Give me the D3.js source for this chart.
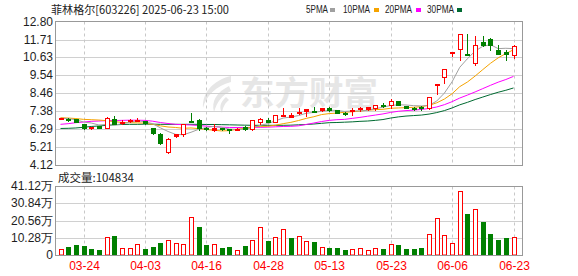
<!DOCTYPE html>
<html><head><meta charset="utf-8">
<script src="https://cdn.jsdelivr.net/npm/d3@7/dist/d3.min.js"></script>
<style>html,body{margin:0;padding:0;background:#fff;}svg{display:block;}</style>
</head><body>
<svg id="chart" width="578" height="276"></svg>
<script>
// ---------------- data ----------------
const titleText = "菲林格尔[603226] 2025-06-23 15:00";
const volumeLabel = "成交量:104834";
const opens  = [6.90,6.93,6.89,6.60,6.34,6.45,6.38,6.92,6.70,6.80,6.78,6.76,6.35,5.97,4.90,5.86,6.00,6.80,6.83,6.38,6.26,6.33,6.27,6.27,6.42,6.28,6.75,6.87,6.74,7.08,7.05,7.32,7.36,7.40,7.42,7.55,7.43,7.27,7.42,7.52,7.52,7.55,7.74,7.75,7.98,7.69,7.58,7.63,7.55,9.02,9.44,10.90,11.15,10.85,10.28,11.56,11.72,11.10,10.93,10.80];
const closes = [6.96,6.84,6.75,6.35,6.41,6.36,6.98,6.62,6.72,6.83,6.86,6.66,6.03,5.47,5.72,5.98,6.57,6.76,6.35,6.28,6.33,6.27,6.24,6.29,6.30,6.83,6.93,6.75,7.12,7.17,7.15,7.34,7.48,7.35,7.55,7.42,7.29,7.20,7.47,7.55,7.62,7.74,7.72,7.98,7.74,7.57,7.52,7.60,8.22,9.04,9.94,10.93,12.02,10.80,11.38,11.38,11.40,10.86,10.86,11.32];
const highs  = [6.98,6.95,6.90,6.62,6.44,6.47,7.00,7.07,6.85,6.90,6.95,6.78,6.37,6.05,5.78,6.00,6.60,7.24,6.90,6.42,6.57,6.36,6.30,6.33,6.50,6.85,6.95,6.95,7.14,7.54,7.27,7.58,7.52,7.60,7.58,7.65,7.45,7.30,7.58,7.63,7.65,7.76,7.84,8.10,8.00,7.70,7.62,7.68,8.25,9.04,9.94,10.93,12.02,12.02,11.91,11.92,11.82,11.38,11.10,11.36];
const lows   = [6.88,6.78,6.72,6.30,6.30,6.33,6.33,6.58,6.60,6.72,6.76,6.63,6.00,5.40,4.87,5.84,5.88,6.74,6.25,6.22,6.18,6.22,6.03,6.25,6.25,6.22,6.60,6.73,6.72,7.06,7.03,7.20,7.10,7.33,7.40,7.40,7.27,7.15,7.17,7.37,7.45,7.47,7.60,7.56,7.72,7.55,7.42,7.45,7.52,8.40,9.08,10.70,10.45,10.78,10.18,11.32,11.05,10.82,10.50,10.60];
// volume in 万手
const volumes = [3.6,4.8,6.0,5.4,3.6,3.0,10.5,11.3,4.0,4.0,6.4,3.6,4.8,7.2,8.7,7.2,6.4,22.5,16.5,6.0,6.4,4.2,4.8,2.8,5.4,8.9,16.5,8.3,10.5,15.3,10.1,11.1,8.3,7.7,4.6,4.2,4.2,3.0,3.4,4.0,3.0,4.0,3.6,6.6,6.0,3.6,3.6,4.2,12.3,21.9,11.7,7.0,38.0,24.4,27.2,19.7,12.5,8.9,10.1,10.48];
const volumeUp = [1,0,0,0,0,0,1,0,1,1,1,0,0,0,1,1,1,1,0,0,1,0,0,1,0,1,1,0,1,1,0,1,1,0,1,0,0,0,1,1,1,1,0,1,0,0,0,0,1,1,1,1,1,0,1,0,0,0,0,1];
const ma5  = [6.95,6.92,6.86,6.72,6.66,6.54,6.57,6.54,6.61,6.70,6.80,6.73,6.62,6.37,6.15,5.97,5.95,6.10,6.28,6.39,6.46,6.40,6.29,6.28,6.28,6.38,6.52,6.62,6.79,6.96,7.02,7.11,7.25,7.30,7.37,7.43,7.42,7.36,7.39,7.39,7.43,7.52,7.62,7.72,7.76,7.75,7.71,7.69,7.73,7.99,8.47,9.15,10.03,10.55,11.01,11.30,11.40,11.16,11.18,11.16];
const ma10 = [6.98,6.96,6.93,6.88,6.86,6.84,6.80,6.74,6.70,6.68,6.67,6.65,6.58,6.49,6.42,6.39,6.34,6.36,6.32,6.27,6.22,6.18,6.20,6.28,6.34,6.42,6.46,6.46,6.53,6.62,6.70,6.81,6.94,7.04,7.17,7.23,7.26,7.31,7.34,7.38,7.43,7.47,7.49,7.55,7.57,7.59,7.61,7.65,7.73,7.88,8.11,8.43,8.86,9.14,9.50,9.89,10.27,10.60,10.86,11.09];
const ma20 = [6.58,6.62,6.68,6.72,6.76,6.78,6.80,6.81,6.82,6.83,6.83,6.82,6.77,6.69,6.63,6.58,6.56,6.54,6.51,6.47,6.44,6.41,6.39,6.39,6.38,6.40,6.40,6.41,6.43,6.45,6.46,6.49,6.57,6.66,6.75,6.82,6.86,6.88,6.94,7.00,7.07,7.14,7.21,7.30,7.37,7.41,7.44,7.48,7.54,7.63,7.77,7.95,8.17,8.35,8.54,8.74,8.94,9.13,9.29,9.48];
const ma30 = [6.33,6.34,6.36,6.40,6.45,6.48,6.52,6.55,6.57,6.58,6.58,6.59,6.59,6.58,6.58,6.58,6.58,6.58,6.58,6.57,6.57,6.56,6.55,6.54,6.53,6.52,6.52,6.52,6.52,6.52,6.53,6.55,6.57,6.60,6.64,6.68,6.69,6.71,6.73,6.76,6.78,6.82,6.87,6.96,7.03,7.08,7.11,7.14,7.20,7.29,7.41,7.57,7.76,7.91,8.08,8.23,8.38,8.52,8.64,8.78];
const maNames = ["5PMA","10PMA","20PMA","30PMA"];
const priceTicks = [12.80,11.71,10.63,9.54,8.46,7.38,6.29,5.21,4.12];
const volumeTicks = [0,10.28,20.56,30.84,41.12];
const dateTickIndex = [3,11,19,27,35,43,51,59];
const dateTickLabels = ["03-24","04-03","04-16","04-28","05-13","05-23","06-06","06-23"];

// ---------------- drawing ----------------
const svg = d3.select("#chart");
const RED = "#ff0000", GREEN = "#008000";
const maColors = ["#a0a0a0","#f5a300","#ff00ff","#006a31"];
const L = 55.5, R = 522.5, PT = 21.5, PB = 165.5, VT = 186.5, VB = 255.5;
const FONT = "'Liberation Sans', Arial, sans-serif";
const CJK = "'Noto Sans CJK SC', sans-serif";

const x = d3.scaleLinear().domain([0, 59]).range([60.5, 513.5]);
const y = d3.scaleLinear().domain([4.12, 12.80]).range([165, 21.5]);
const yv = d3.scaleLinear().domain([0, 41.12]).range([255, 186]);
const px = i => Math.round(x(i));

// title & legend
svg.append("text").attr("x", 51).attr("y", 8.5).attr("dominant-baseline", "central")
  .attr("font-family", CJK).attr("font-size", 11.5).attr("fill", "#222")
  .attr("textLength", 178).attr("lengthAdjust", "spacingAndGlyphs").text(titleText);
const legX = [306, 343, 385, 427], legW = [22, 27, 27, 27], legSq = [330, 374, 416, 457];
maNames.forEach((n, k) => {
  svg.append("text").attr("x", legX[k]).attr("y", 9).attr("dominant-baseline", "central")
    .attr("font-family", FONT).attr("font-size", 11).attr("fill", "#222")
    .attr("textLength", legW[k]).attr("lengthAdjust", "spacingAndGlyphs").text(n);
  svg.append("rect").attr("x", legSq[k]).attr("y", 8).attr("width", 5).attr("height", 4).attr("fill", maColors[k]);
});

// watermark
const wm = svg.append("g").attr("fill", "#e6e6e6");
wm.append("path").attr("d", "M231,76 C214,80 202,92 203,108 C206,96 216,86 231,82 Z M229,86 C217,92 211,101 214,112 C217,102 222,95 231,91 Z M226,97 C220,102 219,108 222,113 C223,107 225,103 229,100 Z");
wm.append("text").attr("x", 240).attr("y", 105).attr("font-family", CJK).attr("font-weight", "bold")
  .attr("font-size", 33).attr("textLength", 138).attr("lengthAdjust", "spacingAndGlyphs").text("东方财富");

// grids
const grid = svg.append("g");
priceTicks.slice(1, -1).forEach(t => {
  const yy = Math.round(y(t)) + 0.5;
  grid.append("line").attr("x1", L).attr("x2", R).attr("y1", yy).attr("y2", yy).attr("stroke", "#d0d0d0");
});
volumeTicks.slice(1, -1).forEach(t => {
  const yy = Math.round(yv(t)) + 0.5;
  grid.append("line").attr("x1", L).attr("x2", R).attr("y1", yy).attr("y2", yy).attr("stroke", "#d0d0d0");
});
dateTickIndex.forEach(i => {
  const xx = px(i) + 0.5;
  grid.append("line").attr("x1", xx).attr("x2", xx).attr("y1", PT).attr("y2", PB).attr("stroke", "#c8c8c8").attr("stroke-dasharray", "3,3");
  grid.append("line").attr("x1", xx).attr("x2", xx).attr("y1", VT).attr("y2", VB).attr("stroke", "#c8c8c8").attr("stroke-dasharray", "3,3");
});

// price y labels
priceTicks.forEach(t => {
  svg.append("text").attr("x", 53).attr("y", y(t)).attr("text-anchor", "end").attr("dominant-baseline", "central")
    .attr("font-family", FONT).attr("font-size", 12).attr("fill", "#1e1e1e").text(t.toFixed(2));
});
// volume y labels
volumeTicks.forEach(t => {
  svg.append("text").attr("x", 53).attr("y", yv(t)).attr("text-anchor", "end").attr("dominant-baseline", "central")
    .attr("font-family", FONT).attr("font-size", 12).attr("fill", "#1e1e1e").text(t === 0 ? "0" : t.toFixed(2) + "万");
});
// volume label
svg.append("text").attr("x", 58).attr("y", 177).attr("dominant-baseline", "central")
  .attr("font-family", CJK).attr("font-size", 11.5).attr("fill", "#222").text(volumeLabel);
// date labels
dateTickIndex.forEach((i, k) => {
  svg.append("text").attr("x", px(i) + 0.5).attr("y", 266).attr("text-anchor", "middle").attr("dominant-baseline", "central")
    .attr("font-family", FONT).attr("font-size", 12).attr("fill", RED).text(dateTickLabels[k]);
});

// MA lines
const mas = [ma5, ma10, ma20, ma30];
const lineGen = d3.line().x((d, i) => x(i)).y(d => y(d));
[3, 2, 1, 0].forEach(k => {
  svg.append("path").attr("d", lineGen(mas[k])).attr("fill", "none").attr("stroke", maColors[k]).attr("stroke-width", 1);
});

// candles
const cg = svg.append("g");
closes.forEach((c, i) => {
  const o = opens[i], up = c >= o, col = up ? RED : GREEN, p = px(i);
  cg.append("line").attr("x1", p + 0.5).attr("x2", p + 0.5).attr("y1", Math.round(y(highs[i]))).attr("y2", Math.round(y(lows[i])) + 1).attr("stroke", col);
  const top = Math.round(y(Math.max(o, c))), bot = Math.round(y(Math.min(o, c)));
  if (up) {
    const h = Math.max(bot - top, 1);
    cg.append("rect").attr("x", p - 1.5).attr("y", top + 0.5).attr("width", 4).attr("height", h)
      .attr("fill", h > 2 ? "#fff" : RED).attr("stroke", col);
  } else {
    cg.append("rect").attr("x", p - 2).attr("y", top).attr("width", 5).attr("height", Math.max(bot - top, 1) + 1).attr("fill", col);
  }
});

// volume bars
const vg = svg.append("g");
volumes.forEach((v, i) => {
  const p = px(i), top = Math.round(yv(v));
  if (volumeUp[i]) {
    vg.append("rect").attr("x", p - 1.5).attr("y", top + 0.5).attr("width", 4).attr("height", 255 - top - 0.5)
      .attr("fill", "#fff").attr("stroke", RED);
  } else {
    vg.append("rect").attr("x", p - 2).attr("y", top).attr("width", 5).attr("height", 255 - top).attr("fill", GREEN);
  }
});

// frames
svg.append("rect").attr("x", L).attr("y", PT).attr("width", R - L).attr("height", PB - PT).attr("fill", "none").attr("stroke", "#999");
svg.append("rect").attr("x", L).attr("y", VT).attr("width", R - L).attr("height", VB - VT).attr("fill", "none").attr("stroke", "#999");
</script>
</body></html>
